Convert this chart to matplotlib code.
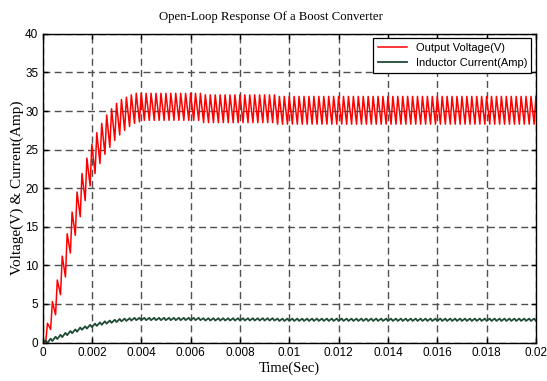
import numpy as np
import matplotlib
matplotlib.use('Agg')
import matplotlib.pyplot as plt

# switching period of the converter (s) and duty ratio of the ON phase
period = 0.0002
duty = 0.65
t_end = 0.02

# output voltage: value at end of each ON phase (trough) and OFF phase (peak)
v_trough_start = [0.0, 1.7, 3.6, 6.2, 8.5, 11.6, 13.9, 16.3, 18.4, 20.3,
                  21.9, 23.2, 24.4, 25.3, 26.2, 26.9, 27.5, 28.0, 28.4, 28.6]
v_peak_start = [2.5, 5.3, 8.1, 11.2, 14.1, 16.9, 19.5, 21.9, 23.9, 25.7,
                27.2, 28.4, 29.5, 30.3, 31.0, 31.5, 31.8, 32.1, 32.3, 32.3]
# after the transient: number of cycles, peak and trough of each stretch
steady_cycles = [12, 15, 53]
steady_peaks = [32.3, 32.1, 31.9]
steady_troughs = [28.8, 28.5, 28.3]

# inductor current: mean of each cycle during start-up, then steady values
i_mean_start = [0.1, 0.35, 0.6, 0.85, 1.1, 1.35, 1.55, 1.8, 1.95, 2.15,
                2.3, 2.45, 2.6, 2.7, 2.8, 2.9, 2.95, 3.0, 3.05, 3.05]
i_mean_steady = [3.05, 3.0, 2.95]
i_ripple = 0.15

peaks = np.concatenate([v_peak_start, np.repeat(steady_peaks, steady_cycles)])
troughs = np.concatenate([v_trough_start, np.repeat(steady_troughs, steady_cycles)])
i_mean = np.concatenate([i_mean_start, np.repeat(i_mean_steady, steady_cycles)])

n = len(peaks)
starts = np.arange(n) * period

# voltage: decay during ON, rise during OFF
tv = [0.0]
v = [0.0]
for k in range(n):
    tv += [starts[k] + duty * period, starts[k] + period]
    v += [troughs[k], peaks[k]]

# current: rises during ON, falls during OFF
ti = [0.0]
cur = [0.0]
for k in range(n):
    ti += [starts[k] + duty * period, starts[k] + period]
    cur += [i_mean[k] + i_ripple, i_mean[k] - i_ripple]

sans = ['Liberation Sans', 'DejaVu Sans']
serif = ['Liberation Serif', 'DejaVu Serif']

fig = plt.figure(figsize=(5.47, 3.81), dpi=100)
ax = fig.add_axes([0.0777, 0.101, 0.902, 0.81])

ax.plot(tv, v, color='#ff0000', linewidth=1.1, label='Output Voltage(V)')
ax.plot(ti, cur, color='#1f4a33', linewidth=1.3, label='Inductor Current(Amp)')

ax.set_xlim(0, t_end)
ax.set_ylim(0, 40)
ax.set_xticks(np.arange(0, 0.0201, 0.002))
ax.set_xticklabels(['0', '0.002', '0.004', '0.006', '0.008', '0.01',
                    '0.012', '0.014', '0.016', '0.018', '0.02'])
ax.set_yticks(np.arange(0, 41, 5))

ax.grid(True, color='#505050', linestyle=(0, (5.0, 3.0)), linewidth=1.0)
ax.tick_params(direction='in', length=3.5, width=1, top=True, right=True,
               labelsize=8.5, pad=3)
for lab in ax.get_xticklabels() + ax.get_yticklabels():
    lab.set_family(sans)
for sp in ax.spines.values():
    sp.set_linewidth(1.0)
    sp.set_color('black')

fig.text(271 / 547, 1 - 17 / 381, 'Open-Loop Response Of a Boost Converter',
         family=serif, fontsize=9.2, ha='center', va='center')
ax.set_xlabel('Time(Sec)', family=serif, fontsize=10.5, labelpad=2)
ax.set_ylabel('Voltage(V) & Current(Amp)', family=serif, fontsize=11,
              labelpad=1)

leg = ax.legend(loc='upper right', prop={'family': sans, 'size': 8},
                fancybox=False, framealpha=1, edgecolor='black',
                borderaxespad=0.4, handlelength=2.6, labelspacing=0.5)
leg.get_frame().set_linewidth(0.9)

fig.savefig('out.png', dpi=100)
